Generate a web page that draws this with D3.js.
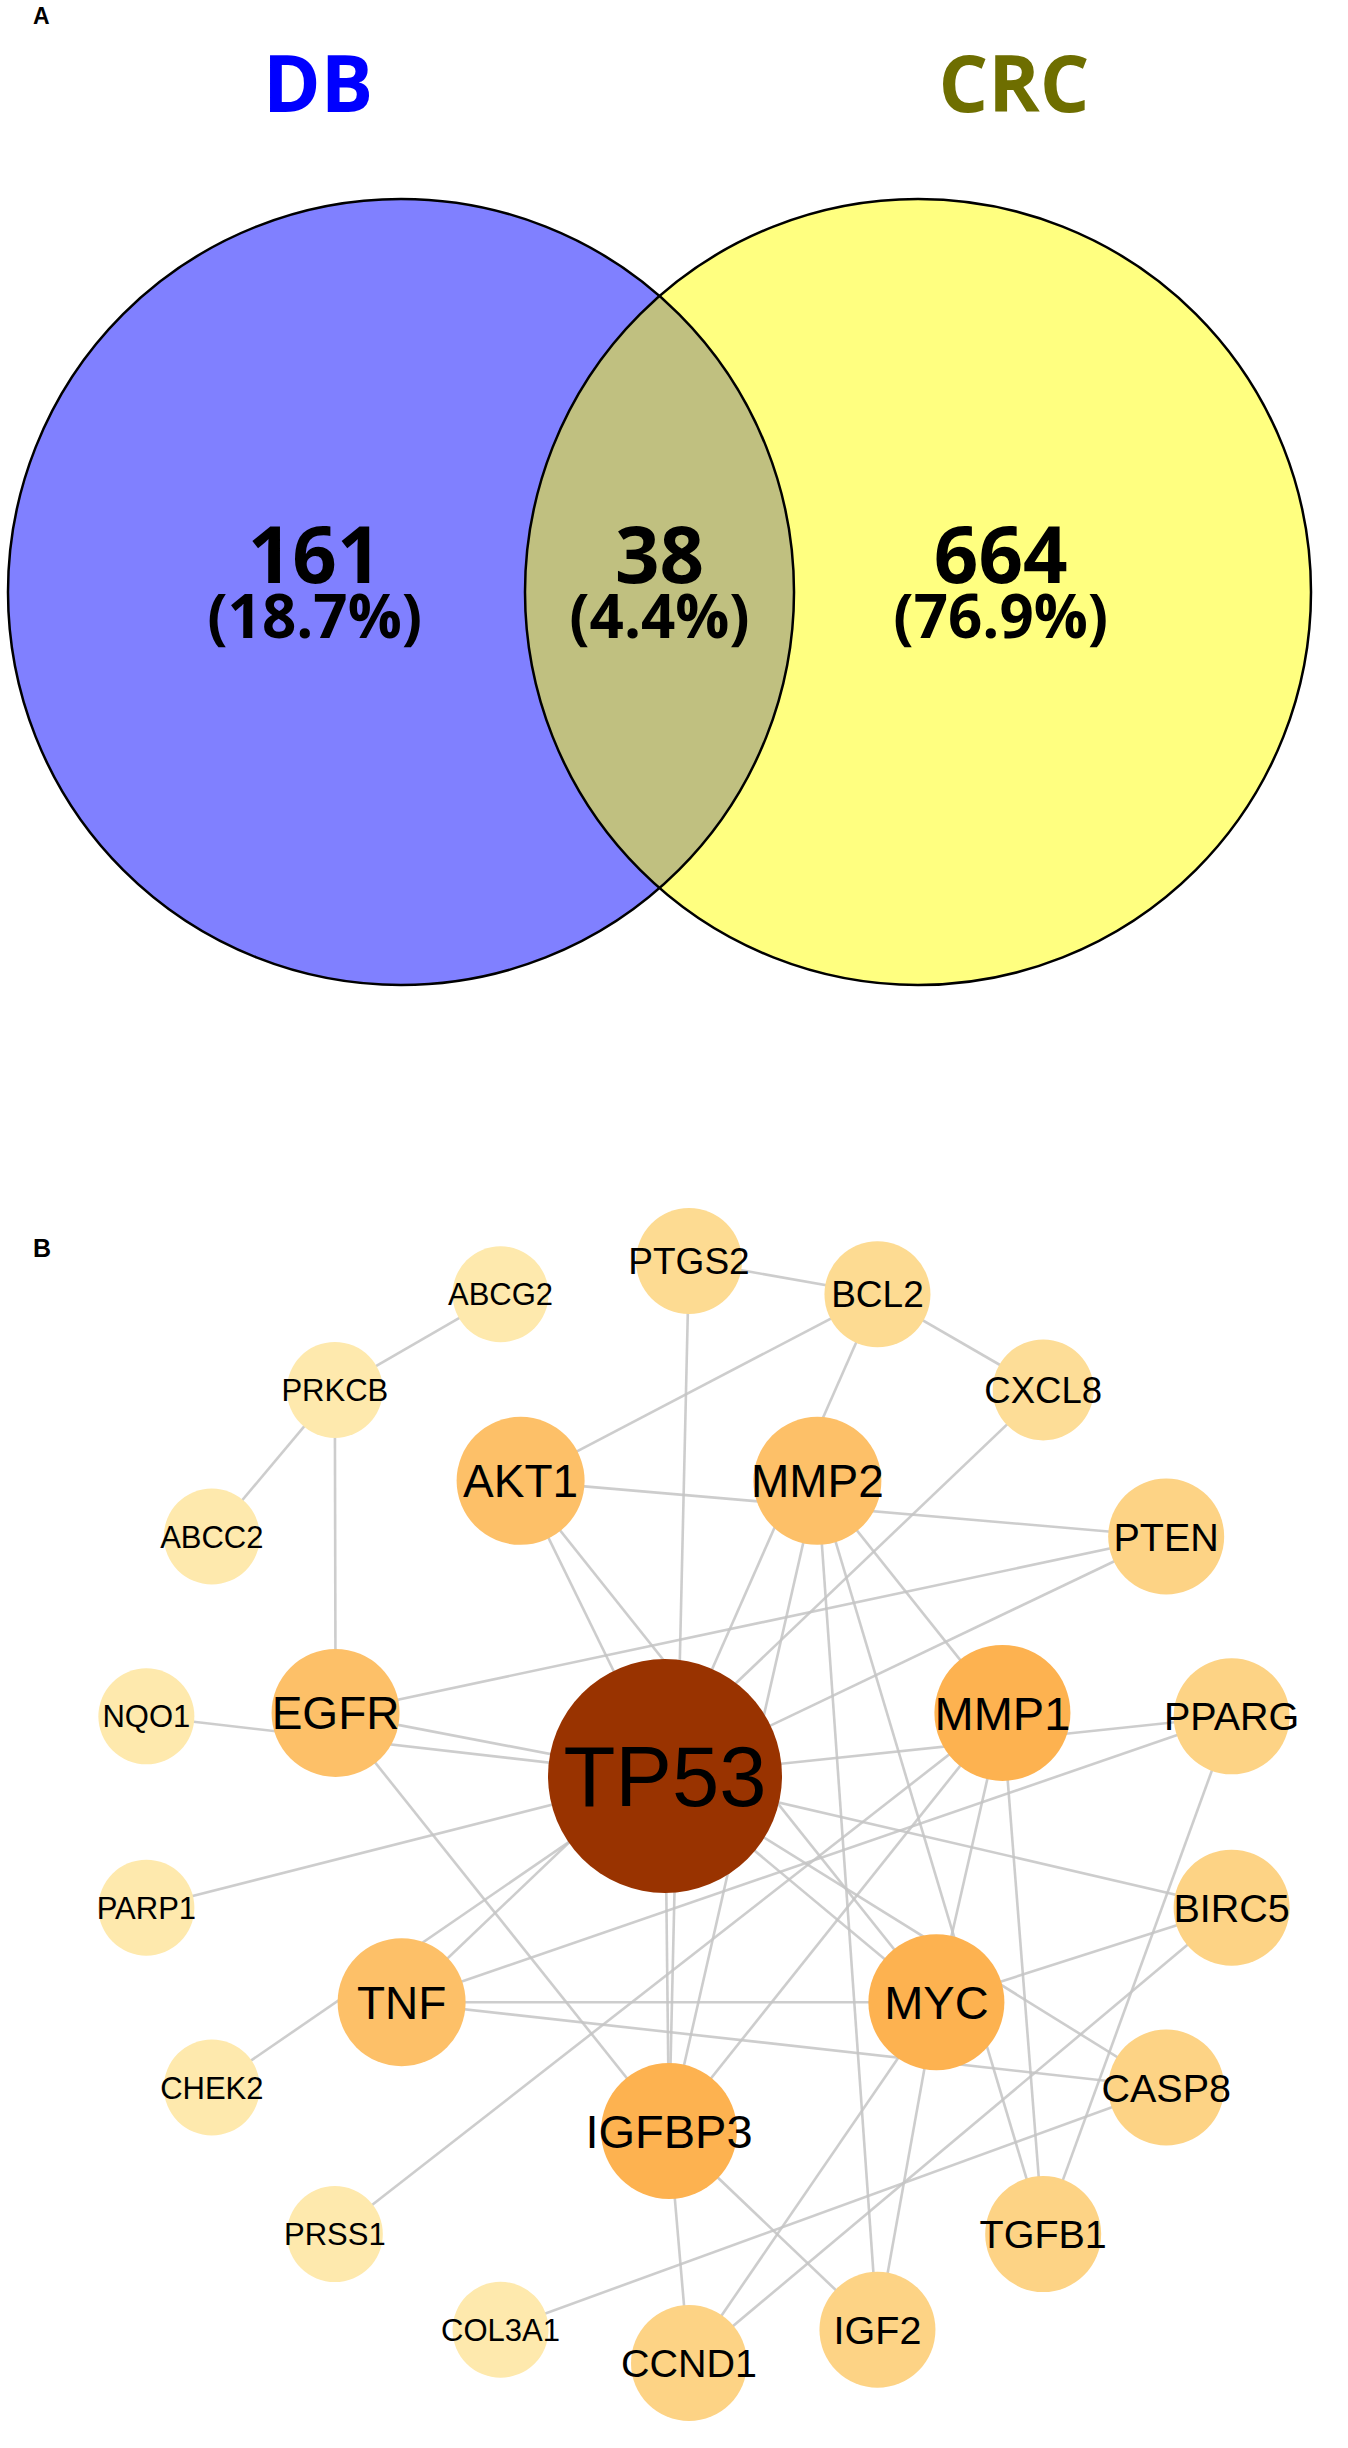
<!DOCTYPE html>
<html>
<head>
<meta charset="utf-8">
<script src="https://cdn.jsdelivr.net/npm/d3@7"></script>
<style>
  html, body { margin: 0; padding: 0; background: #ffffff; }
  svg { display: block; }
</style>
</head>
<body>
<svg id="chart" width="1348" height="2448"></svg>
<script>
// ---------------- DATA ----------------
// Panel A: Venn diagram
const vennSets = ["DB", "CRC"];
const vennSetColors = ["#0000ff", "#6e6e00"];
const vennRegions = ["DB only", "DB ∩ CRC", "CRC only"];
const vennCounts = [161, 38, 664];

// Panel B: PPI network
const hubNode = "TP53";
const innerRing = ["IGFBP3", "TNF", "EGFR", "AKT1", "MMP2", "MMP1", "MYC"];
const outerRing = ["PTGS2", "BCL2", "CXCL8", "PTEN", "PPARG", "BIRC5", "CASP8", "TGFB1", "IGF2",
                   "CCND1", "COL3A1", "PRSS1", "CHEK2", "PARP1", "NQO1", "ABCC2", "PRKCB", "ABCG2"];
const nodeNames = ["TP53", "MMP1", "MYC", "IGFBP3", "AKT1", "MMP2", "EGFR", "TNF",
                   "PTEN", "PPARG", "BIRC5", "CASP8", "TGFB1", "IGF2", "CCND1",
                   "PTGS2", "BCL2", "CXCL8",
                   "ABCG2", "PRKCB", "ABCC2", "NQO1", "PARP1", "CHEK2", "PRSS1", "COL3A1"];
const nodeScores = [20, 12, 12, 12, 10, 10, 10, 10,
                    7, 7, 7, 7, 7, 7, 7,
                    6, 6, 5,
                    3, 3, 3, 3, 3, 3, 3, 3];
const edgeSources = ["ABCG2","PRKCB","PRKCB","NQO1","EGFR","EGFR","EGFR","PARP1","CHEK2",
  "AKT1","AKT1","AKT1","AKT1","PTGS2","PTGS2","BCL2","BCL2","CXCL8","TP53",
  "MMP2","MMP2","MMP2","MMP2","TP53","TP53","TP53","TP53","TP53",
  "TNF","TNF","TNF","PRSS1","COL3A1","IGFBP3","IGFBP3","MMP1","MMP1","MMP1",
  "MYC","MYC","MYC","BIRC5","PPARG"];
const edgeTargets = ["PRKCB","ABCC2","EGFR","TP53","TP53","PTEN","IGFBP3","TP53","TP53",
  "BCL2","PTEN","TP53","MYC","BCL2","IGFBP3","CXCL8","TP53","TNF","PTEN",
  "IGFBP3","IGF2","TGFB1","MMP1","PPARG","BIRC5","MYC","CASP8","IGFBP3",
  "PPARG","MYC","CASP8","MMP1","CASP8","CCND1","IGF2","IGFBP3","MYC","TGFB1",
  "IGF2","CCND1","BIRC5","CCND1","TGFB1"];

// ---------------- DRAW ----------------
const svg = d3.select("#chart");
svg.append("rect").attr("width", 1348).attr("height", 2448).attr("fill", "#ffffff");

// ===== Panel A =====
const gA = svg.append("g");
gA.append("text").attr("x", 33).attr("y", 24).text("A")
  .attr("font-family", "Liberation Sans, Arial, sans-serif").attr("font-weight", "bold")
  .attr("font-size", 23).attr("fill", "#000");

const vx = d3.scaleLinear().domain([0, 1]).range([401, 918]);
const vy = 592, vr = 393;
const vennFont = "'Open Sans', 'Noto Sans', sans-serif";

gA.selectAll("text.setlabel").data(vennSets).join("text")
  .attr("class", "setlabel")
  .attr("x", (d, i) => i === 0 ? 318 : 1014)
  .attr("y", 112)
  .attr("text-anchor", "middle")
  .attr("font-family", vennFont).attr("font-weight", 700).attr("font-size", 78)
  .attr("fill", (d, i) => vennSetColors[i])
  .text(d => d);

const defs = svg.append("defs");
defs.append("clipPath").attr("id", "clipLeft")
  .append("circle").attr("cx", vx(0)).attr("cy", vy).attr("r", vr);

const fills = ["#8080ff", "#ffff80"];
gA.selectAll("circle.fill").data(vennSets).join("circle")
  .attr("class", "fill")
  .attr("cx", (d, i) => vx(i)).attr("cy", vy).attr("r", vr)
  .attr("fill", (d, i) => fills[i]);
gA.append("circle").attr("cx", vx(1)).attr("cy", vy).attr("r", vr)
  .attr("clip-path", "url(#clipLeft)").attr("fill", "#c0c080");
gA.selectAll("circle.stroke").data(vennSets).join("circle")
  .attr("class", "stroke")
  .attr("cx", (d, i) => vx(i)).attr("cy", vy).attr("r", vr)
  .attr("fill", "none").attr("stroke", "#000").attr("stroke-width", 2.5);

const total = d3.sum(vennCounts);
const pct = d3.format(".1%");
const regionX = [-0.167, 0.5, 1.16];
const regions = vennRegions.map((r, i) => ({ name: r, count: vennCounts[i], pos: regionX[i] }));
gA.selectAll("text.count").data(regions).join("text")
  .attr("class", "count")
  .attr("x", d => vx(d.pos)).attr("y", 583)
  .attr("text-anchor", "middle")
  .attr("font-family", vennFont).attr("font-weight", 700).attr("font-size", 78)
  .attr("fill", "#000").text(d => d.count);
gA.selectAll("text.pct").data(regions).join("text")
  .attr("class", "pct")
  .attr("x", d => vx(d.pos)).attr("y", 638)
  .attr("text-anchor", "middle")
  .attr("font-family", vennFont).attr("font-weight", 700).attr("font-size", 60)
  .attr("fill", "#000").text(d => "(" + pct(d.count / total) + ")");

// ===== Panel B =====
const gB = svg.append("g");
gB.append("text").attr("x", 33).attr("y", 1257).text("B")
  .attr("font-family", "Liberation Sans, Arial, sans-serif").attr("font-weight", "bold")
  .attr("font-size", 25).attr("fill", "#000");

const hubPos = { x: 665, y: 1776 };
const innerCenter = { x: 669, y: 1789 }, innerR = 342;
const outerCenter = { x: 689, y: 1812 }, outerR = 551;
const innerAngle = d3.scaleLinear().domain([0, innerRing.length]).range([90, 450]);
const outerAngle = d3.scaleLinear().domain([0, outerRing.length]).range([-90, 270]);
const rad = Math.PI / 180;

const pos = {};
pos[hubNode] = hubPos;
innerRing.forEach((n, i) => {
  const a = innerAngle(i) * rad;
  pos[n] = { x: innerCenter.x + innerR * Math.cos(a), y: innerCenter.y + innerR * Math.sin(a) };
});
outerRing.forEach((n, i) => {
  const a = outerAngle(i) * rad;
  pos[n] = { x: outerCenter.x + outerR * Math.cos(a), y: outerCenter.y + outerR * Math.sin(a) };
});

const scoreDomain = [3, 5, 6, 7, 10, 12, 20];
const rScale = d3.scaleLinear().domain(scoreDomain).range([48, 50.5, 53, 58, 64, 68, 117]);
const fScale = d3.scaleLinear().domain(scoreDomain).range([31, 36.5, 37, 39.5, 46, 47, 85]);
const cScale = d3.scaleLinear().domain(scoreDomain)
  .range(["#fee9ad", "#fddd97", "#fddb92", "#fdd385", "#fdc068", "#fdb250", "#993300"]);

const nodes = nodeNames.map((n, i) => ({ name: n, score: nodeScores[i], x: pos[n].x, y: pos[n].y }));
const edges = edgeSources.map((s, i) => ({ s: pos[s], t: pos[edgeTargets[i]] }));

gB.append("g").selectAll("line").data(edges).join("line")
  .attr("x1", d => d.s.x).attr("y1", d => d.s.y)
  .attr("x2", d => d.t.x).attr("y2", d => d.t.y)
  .attr("stroke", "#c4c4c4").attr("stroke-opacity", 0.85).attr("stroke-width", 2.6);

const ng = gB.append("g").selectAll("g").data(nodes).join("g")
  .attr("transform", d => `translate(${d.x},${d.y})`);
ng.append("circle").attr("r", d => rScale(d.score)).attr("fill", d => cScale(d.score));
ng.append("text")
  .attr("text-anchor", "middle")
  .attr("y", d => 0.355 * fScale(d.score))
  .attr("font-family", "'Liberation Sans', Arial, Helvetica, sans-serif")
  .attr("font-size", d => fScale(d.score))
  .attr("fill", "#000")
  .text(d => d.name);
</script>
</body>
</html>
